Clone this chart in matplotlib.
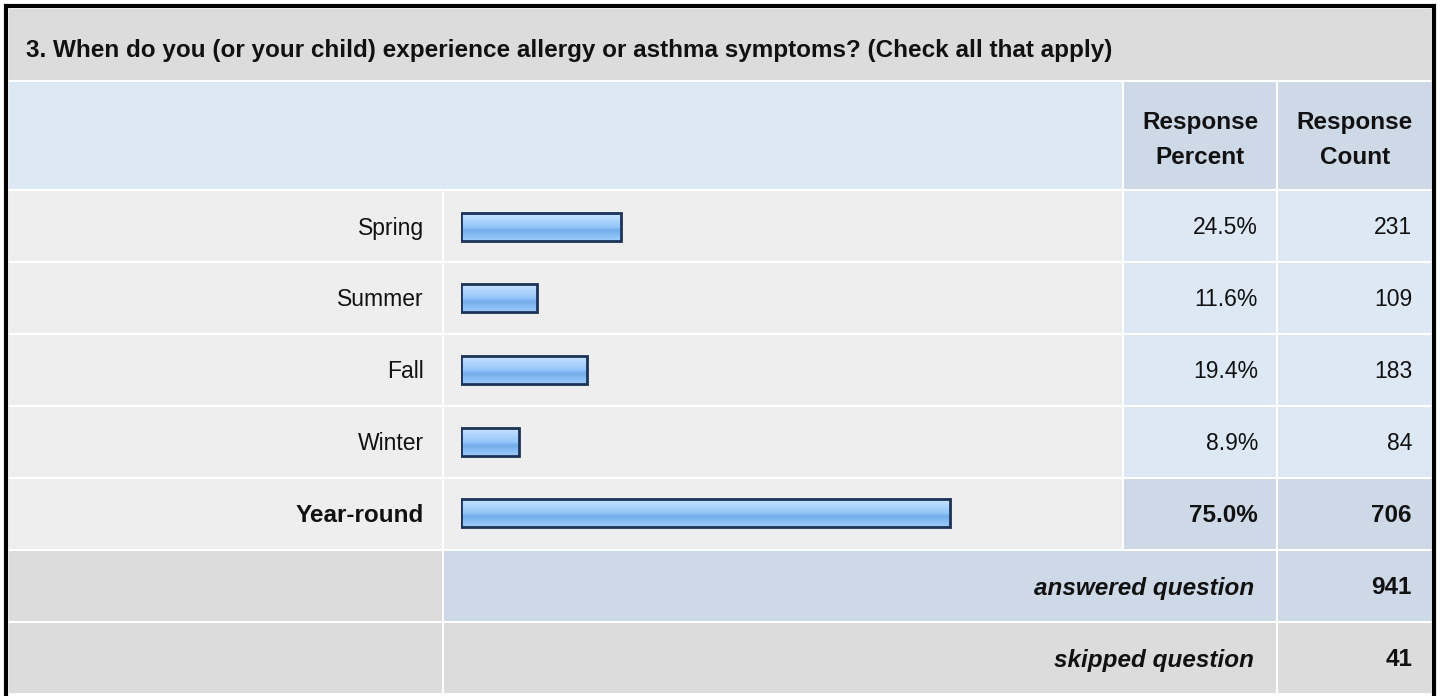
import numpy as np
import matplotlib.pyplot as plt
from matplotlib.patches import Rectangle
from matplotlib.colors import LinearSegmentedColormap

plt.rcParams['font.family'] = ['Liberation Sans', 'DejaVu Sans']

# Survey data
title = "3. When do you (or your child) experience allergy or asthma symptoms? (Check all that apply)"
categories = ['Spring', 'Summer', 'Fall', 'Winter', 'Year-round']
percents = [24.5, 11.6, 19.4, 8.9, 75.0]
counts = [231, 109, 183, 84, 706]
answered = 941
skipped = 41

# Colours
TITLE_BG = '#dcdcdc'
HEAD_BG = '#dde8f5'
HEAD_DARK = '#cdd9e6'
ROW_BG = '#eeeeee'
CELL_BG = '#dde8f5'
BAR_EDGE = '#1c3358'
TXT = '#111111'
FS = 16.5   # normal text
FSB = 17.5  # bold text

fig = plt.figure(figsize=(14.4, 6.96), dpi=100)
ax = fig.add_axes([0, 0, 1, 1])
ax.set_xlim(0, 1440)
ax.set_ylim(696, 0)
ax.axis('off')

def cell(x0, x1, y0, y1, color):
    ax.add_patch(Rectangle((x0, y0), x1 - x0, y1 - y0, facecolor=color, edgecolor='none'))

# column edges (pixels)
c_lab = (9, 442)
c_bar = (444, 1122)
c_pct = (1124, 1276)
c_cnt = (1278, 1432)

# outer frame
ax.add_patch(Rectangle((6, 6), 1428, 700, facecolor='white', edgecolor='black', linewidth=3))

# title row
cell(9, 1432, 9, 80, TITLE_BG)
ax.text(26, 51, title, fontsize=FSB, fontweight='bold', va='center', ha='left', color=TXT)

# header row
cell(c_lab[0], c_bar[1], 82, 189, HEAD_BG)
cell(*c_pct, 82, 189, HEAD_DARK)
cell(*c_cnt, 82, 189, HEAD_DARK)
for col, word in [(c_pct, 'Percent'), (c_cnt, 'Count')]:
    ax.text(sum(col) / 2, 122, 'Response', fontsize=FSB, fontweight='bold', ha='center',
            va='center', color=TXT)
    ax.text(sum(col) / 2, 158, word, fontsize=FSB, fontweight='bold', ha='center',
            va='center', color=TXT)

row_top = 191
row_h = 72
n = len(categories)
for i, (cat, p, c) in enumerate(zip(categories, percents, counts)):
    y0 = row_top + i * row_h
    y1 = y0 + row_h - 2
    ym = (y0 + y1) / 2
    last = i == n - 1
    cell(*c_lab, y0, y1, ROW_BG)
    cell(*c_bar, y0, y1, ROW_BG)
    cell(*c_pct, y0, y1, HEAD_DARK if last else CELL_BG)
    cell(*c_cnt, y0, y1, HEAD_DARK if last else CELL_BG)
    w = 'bold' if last else 'normal'
    fs = FSB if last else FS
    ax.text(424, ym + 2, cat, fontsize=fs, fontweight=w, ha='right', va='center', color=TXT)
    ax.text(1258, ym + 2, f'{p:.1f}%', fontsize=fs, fontweight=w, ha='right', va='center', color=TXT)
    ax.text(1412, ym + 2, f'{c}', fontsize=fs, fontweight=w, ha='right', va='center', color=TXT)

# answered / skipped rows
y0 = row_top + n * row_h
cell(*c_lab, y0, y0 + 70, TITLE_BG)
cell(c_bar[0], c_pct[1], y0, y0 + 70, HEAD_DARK)
cell(*c_cnt, y0, y0 + 70, HEAD_DARK)
ax.text(1254, y0 + 37, 'answered question', fontsize=FSB, fontweight='bold', style='italic',
        ha='right', va='center', color=TXT)
ax.text(1412, y0 + 37, f'{answered}', fontsize=FSB, fontweight='bold', ha='right', va='center', color=TXT)
y0 += row_h
cell(*c_lab, y0, y0 + 70, TITLE_BG)
cell(c_bar[0], c_pct[1], y0, y0 + 70, TITLE_BG)
cell(*c_cnt, y0, y0 + 70, TITLE_BG)
ax.text(1254, y0 + 37, 'skipped question', fontsize=FSB, fontweight='bold', style='italic',
        ha='right', va='center', color=TXT)
ax.text(1412, y0 + 37, f'{skipped}', fontsize=FSB, fontweight='bold', ha='right', va='center', color=TXT)

# bar axes: 0..100 % mapped onto the bar column
bx0, bx1 = 461, 1113
by0, by1 = row_top, row_top + n * row_h - 2
bax = fig.add_axes([bx0 / 1440, 1 - by1 / 696, (bx1 - bx0) / 1440, (by1 - by0) / 696])
bax.axis('off')

grad = LinearSegmentedColormap.from_list('bar', [
    (0.0, '#c8e4ff'), (0.25, '#aed4fc'), (0.5, '#94c6f8'),
    (0.62, '#72ace9'), (0.78, '#86bcf3'), (1.0, '#9ccbf9')])
bh = 0.39
for i, p in enumerate(percents):
    bax.imshow(np.linspace(0, 1, 64).reshape(-1, 1), cmap=grad, aspect='auto',
               extent=(0, p, i + bh / 2, i - bh / 2), zorder=1)
bax.barh(range(n), percents, height=bh, left=0, facecolor='none', edgecolor=BAR_EDGE,
         linewidth=2, zorder=2)
bax.set_xlim(0, 100)
bax.set_ylim(n - 0.5, -0.5)

fig.savefig('out.png', dpi=100)
